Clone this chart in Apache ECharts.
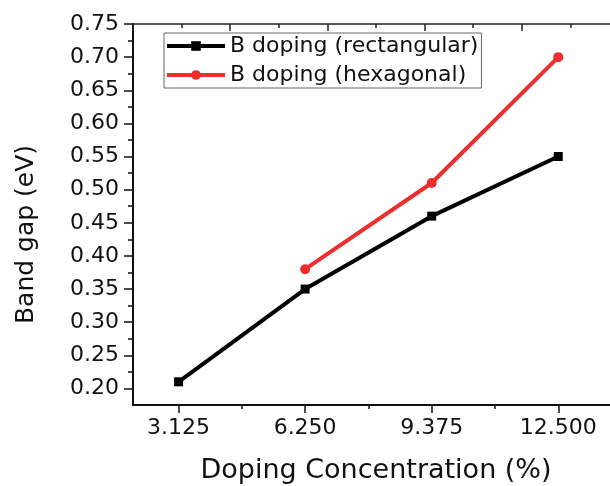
<!DOCTYPE html>
<html>
<head>
<meta charset="utf-8">
<title>Band gap</title>
<script src="https://cdn.jsdelivr.net/npm/echarts@6/dist/echarts.min.js"></script>
<style type="text/css">
body{
    margin: 0;
    background: #fff;
}
#chart{
    width: 610px;
    height: 486px;
}
</style>
</head>
<body>
<div id="chart"></div>
<script>
// values
var concentrations = [3.125, 6.25, 9.375, 12.5];
var rectGap = [0.21, 0.35, 0.46, 0.55];
var hexConc = [6.25, 9.375, 12.5];
var hexGap = [0.38, 0.51, 0.70];

var xMajorTicks = [3.125, 6.25, 9.375, 12.5];
var xMinorTicks = [4.6875, 7.8125, 10.9375];
var yMajorTicks = [0.20, 0.25, 0.30, 0.35, 0.40, 0.45, 0.50, 0.55, 0.60, 0.65, 0.70, 0.75];
var yMinorTicks = [0.225, 0.275, 0.325, 0.375, 0.425, 0.475, 0.525, 0.575, 0.625, 0.675, 0.725];

var font = 'DejaVu Sans';
var ink = '#111';

var chart = echarts.init(document.getElementById('chart'));

var rectData = concentrations.map(function(c, i){ return [c, rectGap[i]]; });
var hexData = hexConc.map(function(c, i){ return [c, hexGap[i]]; });

var option = {
    animation: false,
    grid: {left: 133, right: -9, top: 24, bottom: 81, outerBoundsMode: 'none'},
    legend: {
        orient: 'vertical',
        left: 164,
        top: 33,
        padding: [2, 3, 2, 1],
        itemGap: 7,
        itemWidth: 58,
        itemHeight: 12,
        borderColor: '#666',
        borderWidth: 1,
        lineStyle: {width: 4},
        textStyle: {fontFamily: font, fontSize: 22, color: ink},
        data: ['B doping (rectangular)', 'B doping (hexagonal)']
    },
    xAxis: [
        {
            type: 'value', position: 'bottom', min: 2.0, max: 14.0,
            axisLine: {lineStyle: {color: ink, width: 2}},
            axisTick: {customValues: xMajorTicks, length: 8, lineStyle: {color: ink, width: 1.5}},
            axisLabel: {
                customValues: xMajorTicks, margin: 12,
                fontFamily: font, fontSize: 22, color: ink,
                formatter: function(v){ return v.toFixed(3); }
            },
            splitLine: {show: false},
            name: 'Doping Concentration (%)',
            nameLocation: 'middle',
            nameGap: 52,
            nameTextStyle: {fontFamily: font, fontSize: 27, color: ink}
        },
        {
            type: 'value', position: 'bottom', min: 2.0, max: 14.0,
            axisLine: {show: false},
            axisTick: {customValues: xMinorTicks, length: 4, lineStyle: {color: ink, width: 1.5}},
            axisLabel: {show: false},
            splitLine: {show: false}
        },
        {
            type: 'value', position: 'top', min: 0, max: 5, interval: 1,
            axisLine: {lineStyle: {color: '#222', width: 1.5}},
            axisTick: {inside: true, length: 7, lineStyle: {color: '#222', width: 1.5}},
            minorTick: {show: true, splitNumber: 2, length: 4, lineStyle: {color: '#222', width: 1.5}},
            axisLabel: {show: false},
            splitLine: {show: false}
        }
    ],
    yAxis: [
        {
            type: 'value', position: 'left', min: 0.175, max: 0.75,
            axisLine: {show: true, lineStyle: {color: ink, width: 2}},
            axisTick: {show: true, customValues: yMajorTicks, length: 9, lineStyle: {color: ink, width: 1.5}},
            axisLabel: {
                customValues: yMajorTicks, margin: 14,
                fontFamily: font, fontSize: 22, color: ink,
                formatter: function(v){ return v.toFixed(2); }
            },
            splitLine: {show: false},
            name: 'Band gap (eV)',
            nameLocation: 'middle',
            nameGap: 94,
            nameTextStyle: {fontFamily: font, fontSize: 25, color: ink, padding: [0, 40, 0, 0]}
        },
        {
            type: 'value', position: 'left', min: 0.175, max: 0.75,
            axisLine: {show: false},
            axisTick: {show: true, customValues: yMinorTicks, length: 5, lineStyle: {color: ink, width: 1.5}},
            axisLabel: {show: false},
            splitLine: {show: false}
        }
    ],
    series: [
        {
            name: 'B doping (rectangular)',
            type: 'line',
            xAxisIndex: 0, yAxisIndex: 0,
            data: rectData,
            symbol: 'rect',
            symbolSize: 9,
            color: '#000',
            lineStyle: {width: 4}
        },
        {
            name: 'B doping (hexagonal)',
            type: 'line',
            xAxisIndex: 0, yAxisIndex: 0,
            data: hexData,
            symbol: 'circle',
            symbolSize: 10,
            color: '#ee2e2e',
            lineStyle: {width: 4}
        }
    ]
};
chart.setOption(option);
</script>
</body>
</html>
